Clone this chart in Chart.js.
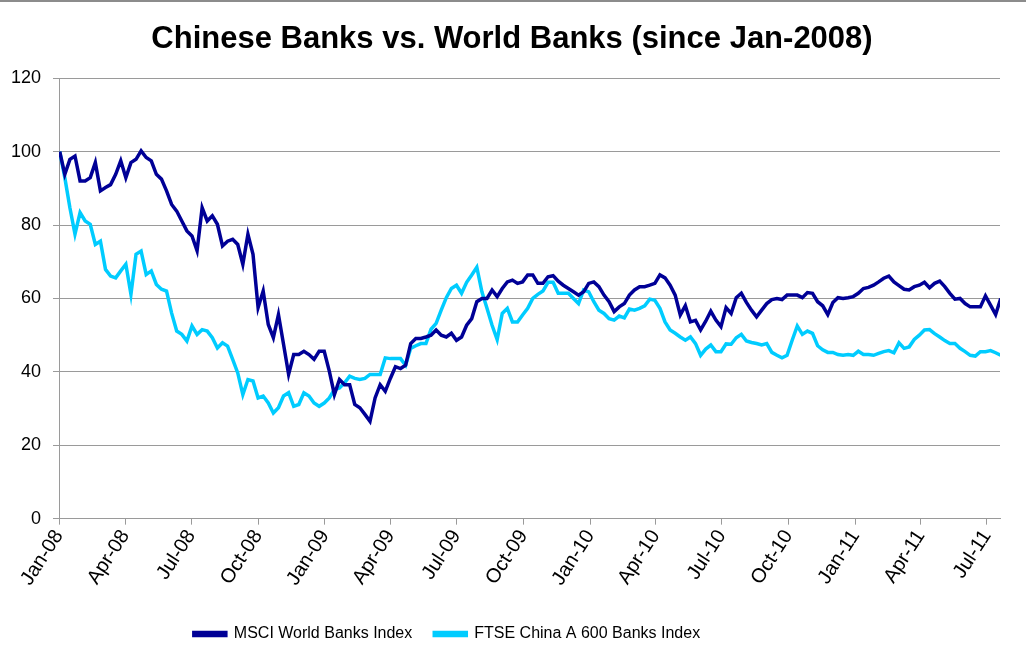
<!DOCTYPE html>
<html lang="en">
<head>
    <meta charset="UTF-8">
    <title>Chinese Banks vs. World Banks</title>
    <script src="https://cdn.jsdelivr.net/npm/chart.js"></script>
    <style>
        body {
            margin: 0;
            background-color: #fff;
        }
        .chart-box {
            width: 1026px;
            height: 656px;
            box-sizing: border-box;
            border-top: 2px solid #8c8c8c;
            position: relative;
        }
    </style>
</head>
<body>
    <div class="chart-box">
        <canvas id="bankChart" width="1026" height="654"></canvas>
    </div>

    <script>
        // weekly closes, rebased to 100 at Jan-2008
        const msciValues = [
            100, 93.8, 97.9, 98.8, 92, 92, 92.9, 97, 89.3, 90.2,
            91, 93.8, 97.5, 92.9, 97, 97.9, 100.2, 98.4, 97.5, 93.8,
            92.5, 89.3, 85.6, 83.8, 81.1, 78.4, 77, 73, 84.7, 81.1,
            82.5, 80.2, 74.3, 75.6, 76.1, 74.7, 69.3, 77.5, 72, 57.5,
            62, 52.9, 49.3, 55.6, 47.5, 39.3, 44.7, 44.7, 45.6, 44.7,
            43.4, 45.6, 45.6, 40.2, 33.8, 37.9, 36.5, 36.5, 31.1, 30.2,
            28.4, 26.5, 32.9, 36.5, 34.7, 38.2, 41.4, 40.9, 41.8, 47.7,
            49.1, 49.1, 49.5, 50, 51.4, 50, 49.5, 50.5, 48.6, 49.5,
            52.7, 54.5, 59.1, 60, 60, 62.3, 60.5, 62.7, 64.5, 65,
            64.1, 64.5, 66.4, 66.4, 64.1, 64.1, 65.9, 66.2, 64.7, 63.6,
            62.7, 61.8, 60.9, 61.8, 64.1, 64.5, 63.2, 60.9, 59.1, 56.4,
            57.7, 58.6, 60.9, 62.3, 63.2, 63.2, 63.6, 64.1, 66.4, 65.6,
            63.6, 60.9, 55.5, 58, 53.6, 54, 51.4, 53.8, 56.5, 54.1,
            52.3, 57.5, 55.9, 60.2, 61.4, 58.9, 56.8, 55, 56.8, 58.6,
            59.7, 60, 59.7, 60.9, 60.9, 60.9, 60.2, 61.6, 61.4, 59.1,
            58, 55.6, 58.9, 60.2, 60, 60.2, 60.5, 61.4, 62.7, 63,
            63.6, 64.5, 65.5, 66.1, 64.5, 63.5, 62.5, 62.3, 63.2, 63.6,
            64.4, 62.9, 64.1, 64.7, 63.2, 61.4, 59.8, 60, 58.6, 57.7,
            57.7, 57.7, 60.7, 58.2, 55.6, 60
        ];

        const ftseValues = [
            100, 92.9, 84.7, 77.5, 83.4, 81.1, 80.2, 74.7, 75.6, 67.9,
            66.1, 65.6, 67.5, 69.3, 61.1, 72, 72.9, 66.5, 67.5, 63.8,
            62.5, 62, 56, 51.1, 50.2, 48.4, 52.5, 50.2, 51.5, 51.1,
            49.3, 46.5, 47.9, 47, 43.4, 39.7, 33.8, 37.9, 37.5, 32.9,
            33.4, 31.5, 28.8, 30.2, 33.4, 34.3, 30.6, 31.1, 34.3, 33.4,
            31.5, 30.6, 31.5, 32.9, 35.2, 35.6, 37, 38.8, 38.2, 37.9,
            38.2, 39.3, 39.3, 39.3, 43.8, 43.6, 43.6, 43.6, 41.8, 46.4,
            47.1, 47.7, 47.7, 51.6, 53.2, 56.8, 60.2, 62.7, 63.6, 61.4,
            64.4, 66.4, 68.5, 61.8, 57.3, 52.7, 48.8, 55.9, 57.3, 53.6,
            53.6, 55.5, 57.3, 60, 61.1, 62, 64.4, 64.4, 61.4, 61.4,
            61.4, 60, 58.6, 62.3, 61.8, 59.1, 56.8, 55.9, 54.5, 54.1,
            55.2, 54.7, 57.1, 56.8, 57.3, 58, 59.8, 59.5, 57.3, 53.6,
            51.4, 50.5, 49.5, 48.6, 49.5, 47.7, 44.5, 46.2, 47.3, 45.5,
            45.5, 47.6, 47.5, 49.3, 50.2, 48.4, 48, 47.7, 47.3, 47.7,
            45.3, 44.5, 43.8, 44.5, 48.6, 52.5, 50.2, 51.1, 50.5, 47.1,
            46, 45.3, 45.3, 44.7, 44.5, 44.7, 44.5, 45.6, 44.7, 44.7,
            44.5, 45, 45.5, 45.8, 45.2, 47.9, 46.4, 46.8, 48.8, 50,
            51.4, 51.5, 50.4, 49.5, 48.5, 47.7, 47.7, 46.4, 45.5, 44.5,
            44.3, 45.5, 45.5, 45.8, 45.2, 44.5
        ];

        const seriesNames = ['MSCI World Banks Index', 'FTSE China A 600 Banks Index'];
        const tickLabels = ['Jan-08', 'Apr-08', 'Jul-08', 'Oct-08', 'Jan-09', 'Apr-09', 'Jul-09', 'Oct-09',
                            'Jan-10', 'Apr-10', 'Jul-10', 'Oct-10', 'Jan-11', 'Apr-11', 'Jul-11'];
        const yTicks = [0, 20, 40, 60, 80, 100, 120];

        // x is days since 1 Jan 2008, one point per week starting 2 Jan 2008
        const DAY = 86400000;
        const origin = Date.UTC(2008, 0, 1);
        const weekDays = msciValues.map((_, i) => 1 + 7 * i);
        const monthIdx = { Jan: 0, Apr: 3, Jul: 6, Oct: 9 };
        const tickDays = tickLabels.map(l => {
            const [m, y] = l.split('-');
            return (Date.UTC(2000 + parseInt(y), monthIdx[m], 1) - origin) / DAY;
        });

        const toPoints = vals => vals.map((v, i) => ({ x: weekDays[i], y: v }));
        const font = "'Liberation Sans', Arial, sans-serif";
        const gridColor = '#9a9a9a';

        // title is centred on the whole frame, legend sits a bit left of centre
        const nudgeBlocks = {
            id: 'nudgeBlocks',
            afterLayout(chart) {
                chart.titleBlock.left += 12;
                chart.titleBlock.right += 12;
                chart.legend.left -= 53;
                chart.legend.right -= 53;
            }
        };

        new Chart(document.getElementById('bankChart'), {
            type: 'line',
            data: {
                datasets: [{
                    label: seriesNames[0],
                    data: toPoints(msciValues),
                    borderColor: '#000096',
                    backgroundColor: '#000096',
                    borderWidth: 3.5,
                    pointRadius: 0,
                    tension: 0
                }, {
                    label: seriesNames[1],
                    data: toPoints(ftseValues),
                    borderColor: '#00ccff',
                    backgroundColor: '#00ccff',
                    borderWidth: 3.5,
                    pointRadius: 0,
                    tension: 0
                }]
            },
            plugins: [nudgeBlocks],
            options: {
                responsive: false,
                animation: false,
                layout: { padding: { left: 0, right: 26, bottom: 4 } },
                plugins: {
                    title: {
                        display: true,
                        text: 'Chinese Banks vs. World Banks (since Jan-2008)',
                        color: '#000',
                        font: { family: font, size: 31, weight: 'bold' },
                        padding: { top: 19, bottom: 20 }
                    },
                    legend: {
                        position: 'bottom',
                        labels: {
                            color: '#000',
                            font: { family: font, size: 16 },
                            boxWidth: 32,
                            boxHeight: 3,
                            padding: 22
                        }
                    },
                    tooltip: { enabled: false }
                },
                scales: {
                    x: {
                        type: 'linear',
                        min: 0,
                        max: 1295,
                        afterBuildTicks: axis => {
                            axis.ticks = tickDays.map(d => ({ value: d }));
                        },
                        afterFit: axis => {
                            axis.paddingLeft = 0;
                            axis.height += 13;
                        },
                        ticks: {
                            autoSkip: false,
                            minRotation: 57,
                            maxRotation: 57,
                            padding: 1,
                            color: '#000',
                            font: { family: font, size: 20 },
                            callback: (v, i) => tickLabels[i]
                        },
                        grid: { drawOnChartArea: false, color: gridColor, tickLength: 6 },
                        border: { color: gridColor }
                    },
                    y: {
                        min: 0,
                        max: 120,
                        afterBuildTicks: axis => {
                            axis.ticks = yTicks.map(v => ({ value: v }));
                        },
                        afterFit: axis => {
                            axis.width = 59;
                        },
                        ticks: {
                            color: '#000',
                            font: { family: font, size: 18 },
                            padding: 12
                        },
                        grid: { color: gridColor, tickLength: 6 },
                        border: { color: gridColor }
                    }
                }
            }
        });
    </script>
</body>
</html>
